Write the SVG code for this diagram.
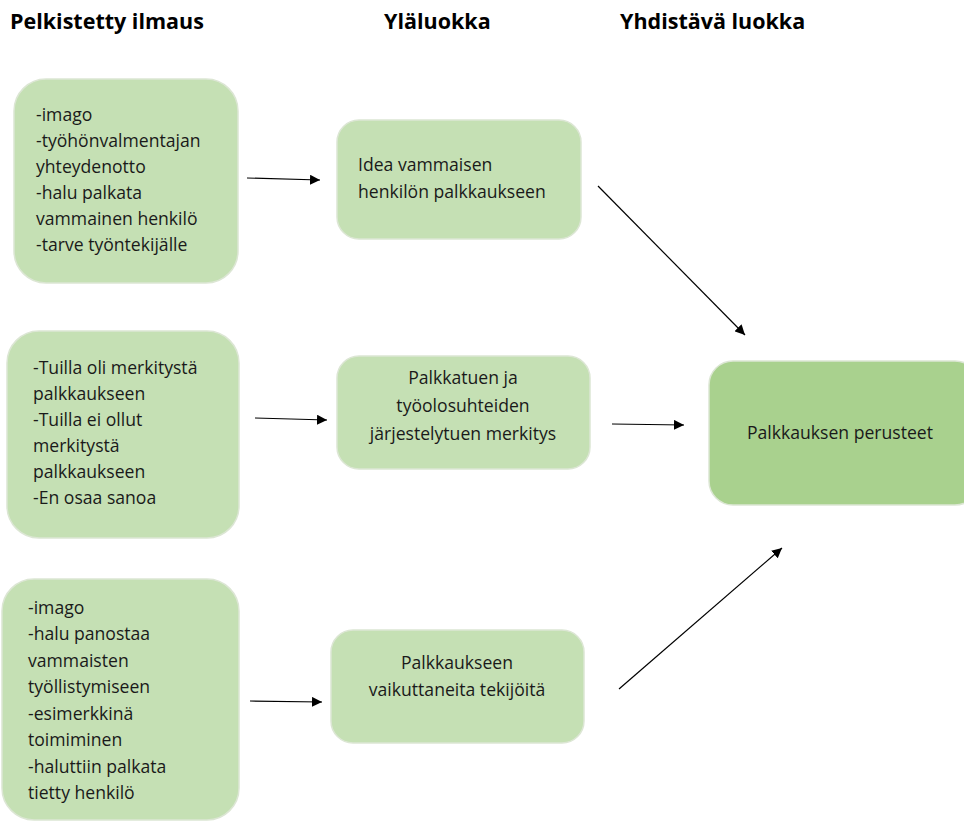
<svg xmlns="http://www.w3.org/2000/svg" width="964" height="829" viewBox="0 0 964 829">
<defs>
<marker id="ah" viewBox="0 0 10 10" refX="10" refY="5" markerWidth="10" markerHeight="10" markerUnits="userSpaceOnUse" orient="auto">
<path d="M0,0 L10,5 L0,10 z" fill="#000"/>
</marker>
<style>
.h{font-family:"Open Sans",sans-serif;font-weight:bold;font-size:21.5px;fill:#000}
.t{font-family:"Open Sans",sans-serif;font-size:17.6px;fill:#1a1a1a}
.b{fill:#C5E0B4;stroke:#dce6d4;stroke-width:1.5}
.m{fill:#A9D18E;stroke:#dce6d4;stroke-width:1.5}
.c{stroke:#000;stroke-width:1.2;fill:none;marker-end:url(#ah)}
</style>
</defs>
<rect width="964" height="829" fill="#fff"/>
<g id="headers">
<text class="h" x="10" y="29">Pelkistetty ilmaus</text>
<text class="h" x="384" y="29">Yläluokka</text>
<text class="h" x="620" y="29">Yhdistävä luokka</text>
</g>
<g id="n1">
<rect class="b" x="14" y="79" width="224" height="204" rx="32"/>
<text class="t" x="36"><tspan x="36" y="121">-imago</tspan><tspan x="36" y="147">-työhönvalmentajan</tspan><tspan x="36" y="173">yhteydenotto</tspan><tspan x="36" y="199">-halu palkata</tspan><tspan x="36" y="225">vammainen henkilö</tspan><tspan x="36" y="251">-tarve työntekijälle</tspan></text>
</g>
<g id="n2">
<rect class="b" x="337" y="120" width="244" height="119" rx="22"/>
<text class="t"><tspan x="358" y="171">Idea vammaisen</tspan><tspan x="358" y="198">henkilön palkkaukseen</tspan></text>
</g>
<g id="n3">
<rect class="b" x="7" y="331" width="232" height="207" rx="32"/>
<text class="t"><tspan x="33" y="374">-Tuilla oli merkitystä</tspan><tspan x="33" y="400">palkkaukseen</tspan><tspan x="33" y="426">-Tuilla ei ollut</tspan><tspan x="33" y="452">merkitystä</tspan><tspan x="33" y="478">palkkaukseen</tspan><tspan x="33" y="504">-En osaa sanoa</tspan></text>
</g>
<g id="n4">
<rect class="b" x="337" y="356" width="253" height="113" rx="22"/>
<text class="t" text-anchor="middle"><tspan x="463" y="384">Palkkatuen ja</tspan><tspan x="463" y="412">työolosuhteiden</tspan><tspan x="463" y="440">järjestelytuen merkitys</tspan></text>
</g>
<g id="n5">
<rect class="b" x="2" y="579" width="237" height="241" rx="32"/>
<text class="t"><tspan x="28" y="614">-imago</tspan><tspan x="28" y="640">-halu panostaa</tspan><tspan x="28" y="667">vammaisten</tspan><tspan x="28" y="693">työllistymiseen</tspan><tspan x="28" y="720">-esimerkkinä</tspan><tspan x="28" y="746">toimiminen</tspan><tspan x="28" y="773">-haluttiin palkata</tspan><tspan x="28" y="799">tietty henkilö</tspan></text>
</g>
<g id="n6">
<rect class="b" x="331" y="630" width="253" height="113" rx="22"/>
<text class="t" text-anchor="middle"><tspan x="457" y="669">Palkkaukseen</tspan><tspan x="457" y="696">vaikuttaneita tekijöitä</tspan></text>
</g>
<g id="n7">
<rect class="m" x="709" y="361" width="270" height="144" rx="24"/>
<text class="t" x="840" y="439" text-anchor="middle">Palkkauksen perusteet</text>
</g>
<g id="connectors">
<line class="c" x1="247" y1="178" x2="320" y2="180"/>
<line class="c" x1="255" y1="418" x2="327" y2="420"/>
<line class="c" x1="250" y1="701" x2="322" y2="702"/>
<line class="c" x1="598" y1="186" x2="745" y2="335"/>
<line class="c" x1="612" y1="424" x2="684" y2="425"/>
<line class="c" x1="619" y1="689" x2="782" y2="548"/>
</g>
</svg>
